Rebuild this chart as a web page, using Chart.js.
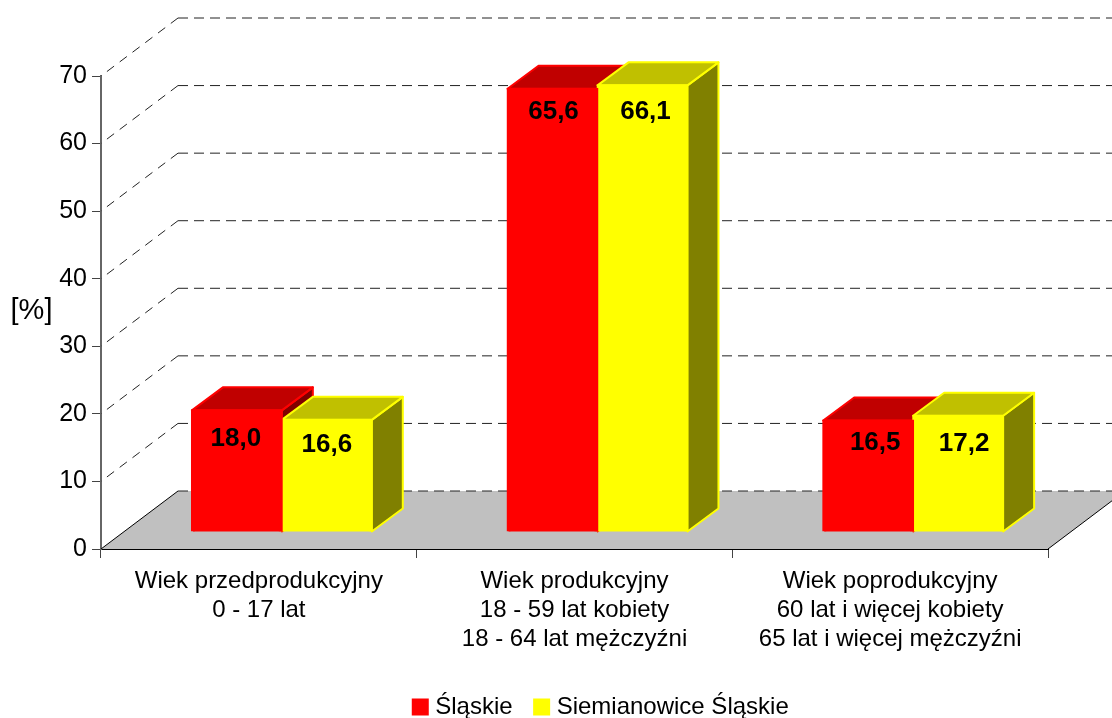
<!DOCTYPE html>
<html>
<head>
<meta charset="utf-8">
<style>
    body { margin: 0; background: #fff; }
    canvas { display: block; }
</style>
<script src="https://cdn.jsdelivr.net/npm/chart.js@4/dist/chart.umd.min.js"></script>
</head>
<body>
<canvas id="ageChart" width="1112" height="718"></canvas>
<script>
const categories = [
    ['Wiek przedprodukcyjny', '0 - 17 lat'],
    ['Wiek produkcyjny', '18 - 59 lat kobiety', '18 - 64 lat mężczyźni'],
    ['Wiek poprodukcyjny', '60 lat i więcej kobiety', '65 lat i więcej mężczyźni']
];
const slaskie = [18.0, 65.6, 16.5];
const siemianowice = [16.6, 66.1, 17.2];

const FONT = '"Liberation Sans", Arial, sans-serif';

// depth of the whole 3D box, and where the bars stand inside it
const depthX = 77, depthY = 58;
const barShiftX = 23, barShiftY = 17;
const barDepthX = 31, barDepthY = 23;

const faces = [
    { front: '#ff0000', top: '#c00000', side: '#800000' },
    { front: '#ffff00', top: '#c0c000', side: '#808000' }
];

// value labels do not sit at one fixed spot on the bars in the original
const labelNudgeX = [[-1, 1, 7], [0, 3, 6]];
const labelNudgeY = [[28, 23, 22], [25, 26, 28]];

function poly(ctx, points, fill, stroke) {
    ctx.beginPath();
    points.forEach((p, i) => i ? ctx.lineTo(p[0], p[1]) : ctx.moveTo(p[0], p[1]));
    ctx.closePath();
    ctx.fillStyle = fill;
    ctx.fill();
    if (stroke) {
        ctx.strokeStyle = stroke;
        ctx.lineWidth = 2;
        ctx.lineJoin = 'round';
        ctx.stroke();
    }
}

const box3d = {
    id: 'box3d',
    afterLayout(chart) {
        // legend sits under the plot, not under the canvas centre
        chart.legend.left += 158;
        chart.legend.top += 11;
    },
    beforeDatasetsDraw(chart) {
        const { ctx, chartArea, scales } = chart;
        const left = chartArea.left, right = chartArea.right, bottom = chartArea.bottom;

        // floor
        poly(ctx, [[left, bottom], [left + depthX, bottom - depthY],
            [right + depthX, bottom - depthY], [right, bottom]], '#c0c0c0');
        ctx.strokeStyle = '#000';
        ctx.lineWidth = 1;
        ctx.beginPath();
        ctx.moveTo(left, bottom);
        ctx.lineTo(left + depthX, bottom - depthY);
        ctx.moveTo(right, bottom);
        ctx.lineTo(right + depthX, bottom - depthY);
        ctx.stroke();

        // dashed grid: along the side wall, then along the back wall
        ctx.strokeStyle = '#222';
        scales.y.ticks.forEach(t => {
            const y = scales.y.getPixelForValue(t.value);
            if (t.value !== 0) {
                ctx.setLineDash([9, 7]);
                ctx.beginPath();
                ctx.moveTo(left + depthX, y - depthY);
                ctx.lineTo(left, y);
                ctx.stroke();
            }
            ctx.setLineDash([10, 6]);
            ctx.beginPath();
            ctx.moveTo(left + depthX, y - depthY);
            ctx.lineTo(chart.width, y - depthY);
            ctx.stroke();
        });
        ctx.setLineDash([]);

        // side and top faces of the bars
        ctx.save();
        ctx.translate(barShiftX, -barShiftY);
        chart.data.datasets.forEach((ds, d) => {
            const c = faces[d];
            chart.getDatasetMeta(d).data.forEach(bar => {
                const l = bar.x - bar.width / 2, r = bar.x + bar.width / 2;
                const t = bar.y, b = bar.base;
                poly(ctx, [[r, t], [r + barDepthX, t - barDepthY], [r + barDepthX, b - barDepthY], [r, b]], c.side, c.front);
                poly(ctx, [[l, t], [l + barDepthX, t - barDepthY], [r + barDepthX, t - barDepthY], [r, t]], c.top, c.front);
            });
        });
        ctx.restore();

        // the bars themselves are drawn by Chart.js inside this shift
        ctx.save();
        ctx.translate(barShiftX, -barShiftY);
    },
    afterDatasetsDraw(chart) {
        const { ctx } = chart;
        ctx.restore();

        ctx.save();
        ctx.translate(barShiftX, -barShiftY);
        ctx.fillStyle = '#000';
        ctx.font = 'bold 26px ' + FONT;
        ctx.textAlign = 'center';
        ctx.textBaseline = 'middle';
        chart.data.datasets.forEach((ds, d) => {
            chart.getDatasetMeta(d).data.forEach((bar, i) => {
                ctx.fillText(ds.data[i].toFixed(1).replace('.', ','), bar.x + labelNudgeX[d][i], bar.y + labelNudgeY[d][i]);
            });
        });
        ctx.restore();

        ctx.fillStyle = '#000';
        ctx.font = '29px ' + FONT;
        ctx.textAlign = 'center';
        ctx.textBaseline = 'middle';
        ctx.fillText('[%]', 31.5, 311);
    }
};

new Chart(document.getElementById('ageChart').getContext('2d'), {
    type: 'bar',
    data: {
        labels: categories,
        datasets: [
            { label: 'Śląskie', data: slaskie, backgroundColor: faces[0].front, borderColor: faces[0].front, borderWidth: 2, inflateAmount: 1, clip: false },
            { label: 'Siemianowice Śląskie', data: siemianowice, backgroundColor: faces[1].front, borderColor: faces[1].front, borderWidth: 2, inflateAmount: 1, clip: false }
        ]
    },
    options: {
        responsive: false,
        animation: false,
        layout: { padding: { top: 76, right: 64, left: 0, bottom: 0 } },
        datasets: { bar: { categoryPercentage: 0.57, barPercentage: 1 } },
        scales: {
            x: {
                offset: true,
                grid: { offset: true, drawOnChartArea: false, tickLength: 9, color: '#444', tickColor: '#444' },
                border: { color: '#000', width: 2 },
                ticks: { color: '#000', font: { family: FONT, size: 24, lineHeight: 1.2 }, maxRotation: 0, autoSkip: false, padding: 9 },
                afterFit(scale) { scale.height = 109; }
            },
            y: {
                min: 0,
                max: 70,
                grid: { drawOnChartArea: false, tickLength: 9, color: '#444', tickColor: '#444' },
                border: { color: '#666', width: 2 },
                ticks: { stepSize: 10, color: '#000', font: { family: FONT, size: 25 }, padding: 5 },
                afterFit(scale) { scale.width = 101; }
            }
        },
        plugins: {
            tooltip: { enabled: false },
            legend: {
                position: 'bottom',
                labels: {
                    color: '#000',
                    font: { family: FONT, size: 24 },
                    usePointStyle: true,
                    pointStyle: 'rect',
                    boxWidth: 6,
                    boxHeight: 15,
                    padding: 26
                }
            }
        }
    },
    plugins: [box3d]
});
</script>
</body>
</html>
